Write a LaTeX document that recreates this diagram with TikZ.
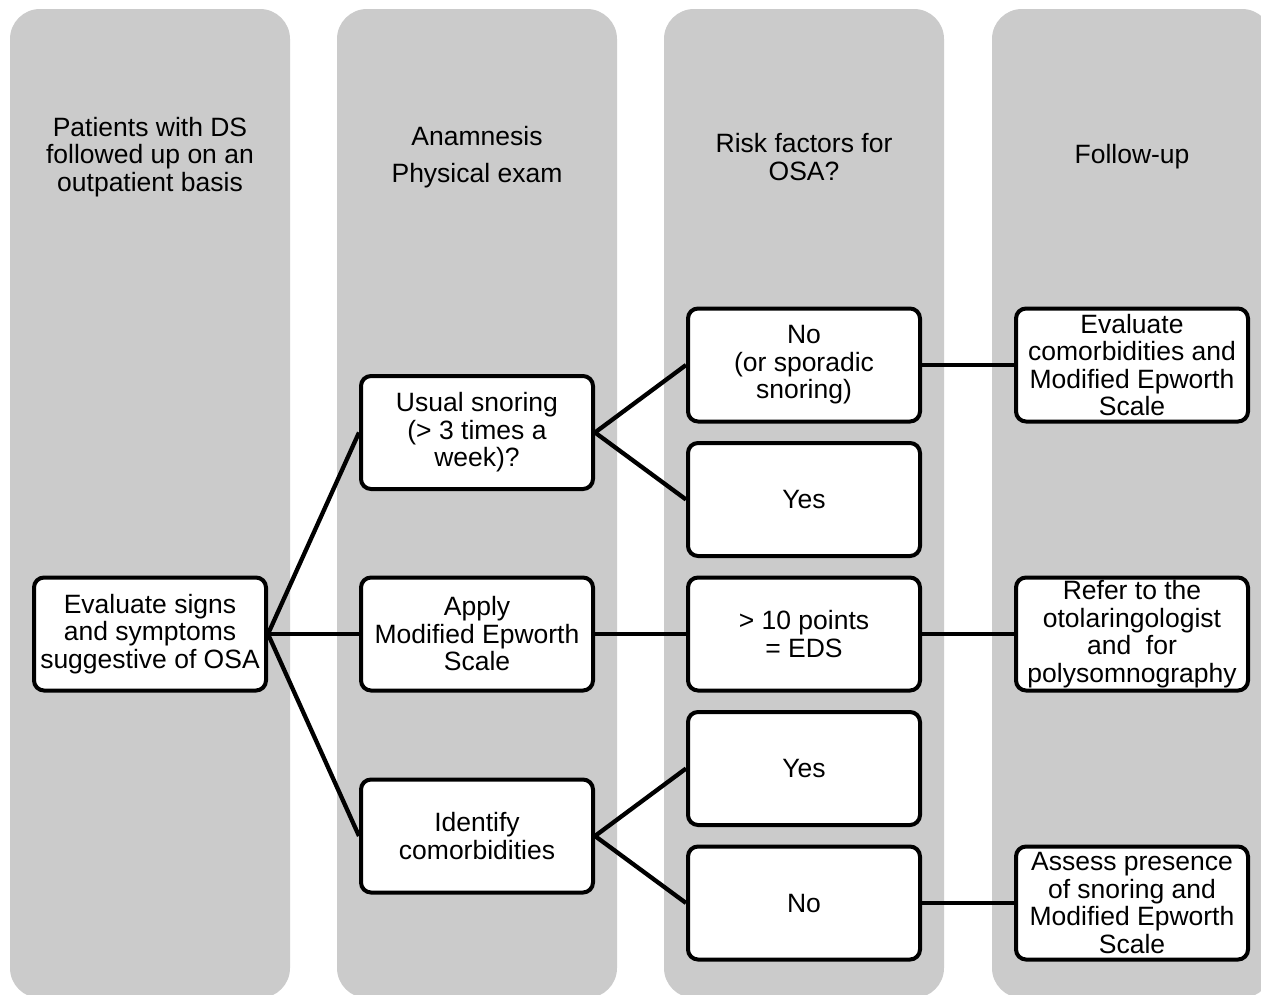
\documentclass[tikz,border=0pt]{standalone}
\usepackage{fontspec}
\setmainfont{Liberation Sans}
\definecolor{colbg}{RGB}{203,203,203}
\begin{document}
\begin{tikzpicture}[x=1pt,y=-1pt,
  lane/.style={fill=colbg,draw=none,rounded corners=30pt},
  hdr/.style={align=center,font=\fontsize{26.5}{27.5}\selectfont,inner sep=0pt},
  box/.style={draw=black,fill=white,line width=4pt,rounded corners=10pt,
    minimum width=232pt,minimum height=113pt,inner sep=0pt,align=center,
    font=\fontsize{26.5}{27.5}\selectfont},
  link/.style={line width=4.3pt,black}]
\useasboundingbox (0,0) rectangle (1261,994);
% lanes
\fill[lane] (10,9) rectangle (290,998);
\fill[lane] (337,9) rectangle (617,998);
\fill[lane] (664,9) rectangle (944,998);
\fill[lane] (992,9) rectangle (1272,998);
% headers
\node[hdr] (h1) at (150,157) {Patients with DS\\followed up on an\\outpatient basis};
\node[hdr] (h2) at (477,157) {Anamnesis\\[10pt]Physical exam};
\node[hdr] (h3) at (804,157) {Risk factors for\\OSA?};
\node[hdr] (h4) at (1132,157) {Follow-up};
% boxes
\node[box] (ev) at (150,634) {Evaluate signs\\and symptoms\\suggestive of OSA};
\node[box] (us) at (477,432.5) {Usual snoring\\(> 3 times a\\week)?};
\node[box] (ap) at (477,634) {Apply\\Modified Epworth\\Scale};
\node[box] (id) at (477,836) {Identify\\comorbidities};
\node[box] (no1) at (804,365) {No\\(or sporadic\\snoring)};
\node[box] (yes1) at (804,499.5) {Yes};
\node[box] (pts) at (804,634) {> 10 points\\= EDS};
\node[box] (yes2) at (804,768.5) {Yes};
\node[box] (no2) at (804,903) {No};
\node[box] (fu1) at (1132,365) {Evaluate\\comorbidities and\\Modified Epworth\\Scale};
\node[box] (fu2) at (1132,634) {Refer to the\\otolaringologist\\and\ \ for\\polysomnography};
\node[box] (fu3) at (1132,903) {Assess presence\\of snoring and\\Modified Epworth\\Scale};
% links
\draw[link] (ev.east) -- (us.west);
\draw[link] (ev.east) -- (ap.west);
\draw[link] (ev.east) -- (id.west);
\draw[link] (us.east) -- (no1.west);
\draw[link] (us.east) -- (yes1.west);
\draw[link] (ap.east) -- (pts.west);
\draw[link] (id.east) -- (yes2.west);
\draw[link] (id.east) -- (no2.west);
\draw[link] (no1.east) -- (fu1.west);
\draw[link] (pts.east) -- (fu2.west);
\draw[link] (no2.east) -- (fu3.west);
\end{tikzpicture}
\end{document}
